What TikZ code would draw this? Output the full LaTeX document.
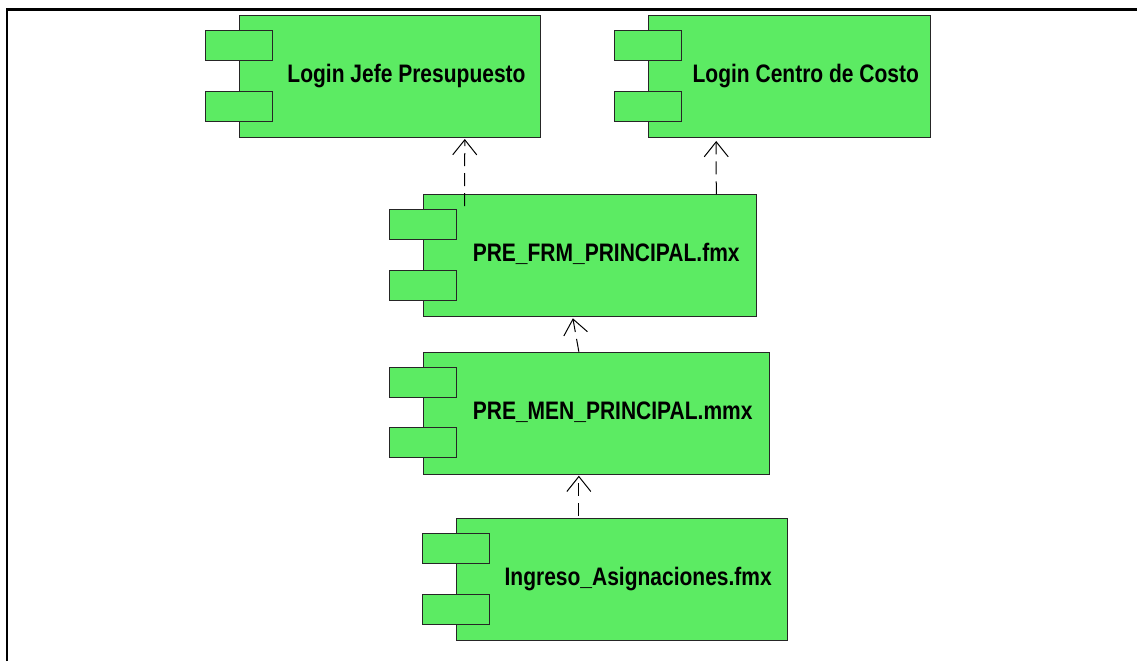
\documentclass[tikz,border=0pt]{standalone}
\usepackage{fontspec}
\setmainfont{Liberation Sans}
\newfontfamily\lblfont[FakeStretch=0.83]{Liberation Sans}
\usetikzlibrary{arrows.meta}
\definecolor{compgreen}{RGB}{92,235,99}
\tikzset{
  comp/.style={draw=black!85, line width=1pt, fill=compgreen, minimum height=122pt, inner sep=0pt},
  tab/.style={draw=black!85, line width=1pt, fill=compgreen, minimum width=67pt, minimum height=30pt, inner sep=0pt},
  lbl/.style={font=\lblfont\bfseries\fontsize{25.3}{30}\selectfont, inner sep=0pt, anchor=base},
  dep/.style={draw=black, line width=1pt, dash pattern=on 13pt off 7pt, -{Straight Barb[length=15pt,width=24pt,line width=1pt]}},
  frame/.style={draw=black, line width=2.2pt}
}
\begin{document}
\begin{tikzpicture}[x=1pt,y=-1pt]
\useasboundingbox (0,0) rectangle (1137,661);
% outer frame (open on right and bottom)
\coordinate (fbl) at (7,661);
\coordinate (ftl) at (7,9.5);
\coordinate (ftr) at (1137,9.5);
\draw[frame] (fbl) -- (ftl) -- (ftr);

% components
\node[comp, minimum width=301.4pt] (b1) at (390,76.5) {};
\node[tab] (b1a) at ([yshift=-30.3pt]b1.north west) {};
\node[tab] (b1b) at ([yshift=-91pt]b1.north west) {};
\node[lbl] (t1) at ([xshift=16.5pt,yshift=-6pt]b1.center) {Login Jefe Presupuesto};

\node[comp, minimum width=282pt] (b2) at (789.3,76.5) {};
\node[tab] (b2a) at ([yshift=-30.3pt]b2.north west) {};
\node[tab] (b2b) at ([yshift=-91pt]b2.north west) {};
\node[lbl] (t2) at ([xshift=16.5pt,yshift=-6pt]b2.center) {Login Centro de Costo};

\node[comp, minimum width=332.7pt] (b3) at (589.7,255.8) {};
\node[tab] (b3a) at ([yshift=-30.3pt]b3.north west) {};
\node[tab] (b3b) at ([yshift=-91pt]b3.north west) {};
\node[lbl] (t3) at ([xshift=16.5pt,yshift=-6pt]b3.center) {PRE\_FRM\_PRINCIPAL.fmx};

\node[comp, minimum width=345.7pt] (b4) at (596.2,413.2) {};
\node[tab] (b4a) at ([yshift=-30.3pt]b4.north west) {};
\node[tab] (b4b) at ([yshift=-91pt]b4.north west) {};
\node[lbl] (t4) at ([xshift=16.5pt,yshift=-6pt]b4.center) {PRE\_MEN\_PRINCIPAL.mmx};

\node[comp, minimum width=331.3pt] (b5) at (621.7,579.5) {};
\node[tab] (b5a) at ([yshift=-30.3pt]b5.north west) {};
\node[tab] (b5b) at ([yshift=-91pt]b5.north west) {};
\node[lbl] (t5) at ([xshift=16.5pt,yshift=-6pt]b5.center) {Ingreso\_Asignaciones.fmx};

% dependencies
\draw[dep] ([xshift=41.7pt,yshift=-11.7pt]b3.north west) -- ([xshift=226pt,yshift=-1pt]b1.south west);
\draw[dep] ([xshift=293.4pt]b3.north west) -- ([xshift=68.4pt,yshift=-3pt]b2.south west);
\draw[dep] ([xshift=156pt]b4.north west) -- ([xshift=150pt,yshift=-1pt]b3.south west);
\draw[dep] ([xshift=123.3pt,yshift=2.5pt]b5.north west) -- ([xshift=156pt,yshift=-1pt]b4.south west);
\end{tikzpicture}
\end{document}
